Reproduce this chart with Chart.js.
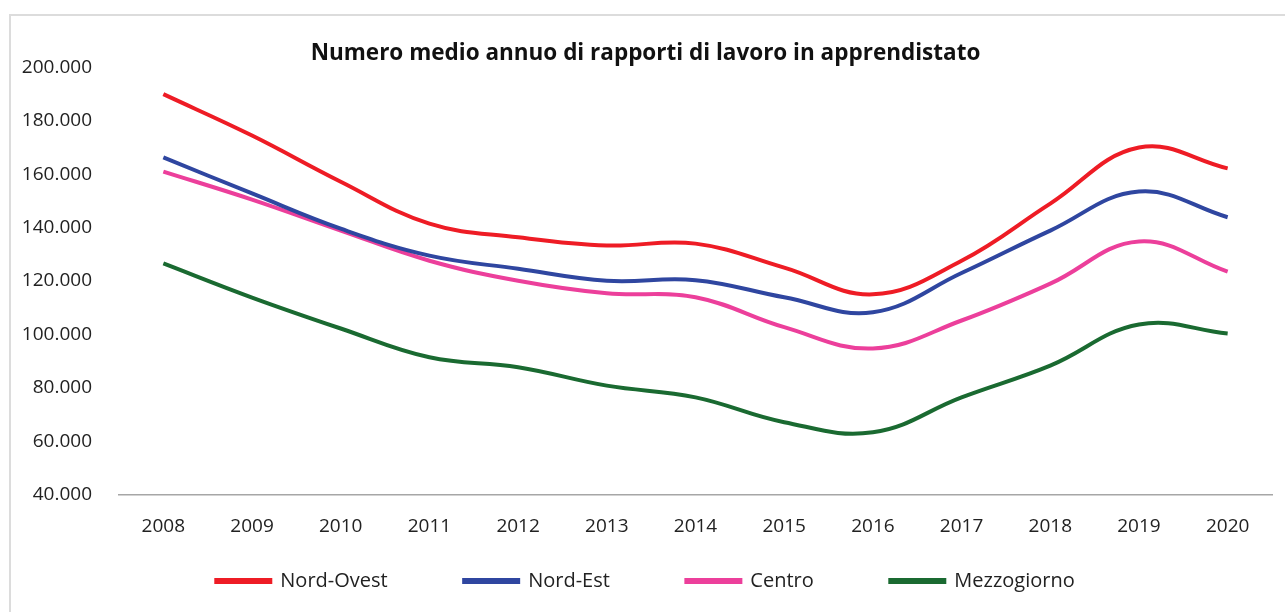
<!DOCTYPE html>
<html>
<head>
<meta charset="utf-8">
<script src="https://cdn.jsdelivr.net/npm/chart.js@4/dist/chart.umd.min.js"></script>
<style>
  html, body { margin: 0; padding: 0; background: #fff; overflow: hidden; }
  #frame { position: absolute; left: 9px; top: 14px; width: 1300px; height: 620px; border: 2px solid #dcdcdc; box-sizing: border-box; }
  #wrap { position: absolute; left: 0; top: 0; width: 1285px; height: 612px; }
</style>
</head>
<body>
<div id="frame"></div>
<div id="wrap"><canvas id="c" width="1285" height="612"></canvas></div>
<script>
const years = ['2008','2009','2010','2011','2012','2013','2014','2015','2016','2017','2018','2019','2020'];
const nordOvest = [190000, 174500, 157200, 141500, 136400, 133300, 134000, 125000, 115000, 127600, 149000, 170000, 162200];
const nordEst   = [166300, 152800, 139600, 129500, 124600, 120100, 120300, 113900, 108300, 123000, 138900, 153500, 143900];
const centro    = [161000, 150500, 138900, 127600, 120100, 115400, 113900, 102700, 94700, 105200, 119000, 134800, 123500];
const mezzogiorno = [126600, 113800, 102200, 91400, 87700, 80800, 76400, 67100, 63300, 76400, 88300, 103700, 100300];
const seriesNames = ['Nord-Ovest', 'Nord-Est', 'Centro', 'Mezzogiorno'];
const seriesColors = ['#ee1c25', '#2f46a0', '#ec3f9b', '#1a6a31'];
const titleText = 'Numero medio annuo di rapporti di lavoro in apprendistato';
const yMin = 40000, yMax = 200000, yStep = 20000;

const FONT = '"Open Sans", Lato, sans-serif';
const allSeries = [nordOvest, nordEst, centro, mezzogiorno];

const datasets = allSeries.map((d, i) => ({
  label: seriesNames[i],
  data: d,
  borderColor: seriesColors[i],
  backgroundColor: seriesColors[i],
  borderWidth: 4,
  pointRadius: 0,
  pointHoverRadius: 0,
  tension: 0.4,
  fill: false
}));

function fmt(v) {
  const k = Math.round(v / 1000);
  return k + '.000';
}

new Chart(document.getElementById('c'), {
  type: 'line',
  data: { labels: years, datasets },
  options: {
    responsive: false,
    animation: false,
    layout: { padding: { left: 19, right: 13, top: 0, bottom: 11 } },
    plugins: {
      title: {
        display: true,
        text: titleText,
        color: '#111',
        font: { family: FONT, size: 22.5, weight: 'bold' },
        padding: { top: 40.5, bottom: 0 }
      },
      legend: {
        position: 'bottom',
        labels: {
          color: '#222',
          font: { family: FONT, size: 20 },
          boxWidth: 54,
          boxHeight: 2,
          padding: 76.5
        }
      },
      tooltip: { enabled: false }
    },
    scales: {
      x: {
        position: { y: yMin },
        offset: true,
        grid: { display: true, color: 'rgba(0,0,0,0)', drawTicks: false },
        border: { display: true, color: '#a6a6a6', width: 1.5 },
        ticks: { color: '#222', font: { family: FONT, size: 19 }, padding: 21, maxRotation: 0, autoSkip: false }
      },
      y: {
        min: yMin,
        max: yMax,
        grid: { display: false, drawTicks: false },
        border: { display: false },
        ticks: {
          stepSize: yStep,
          color: '#222',
          font: { family: FONT, size: 19 },
          padding: 27,
          callback: (v) => fmt(v)
        },
        afterFit: (axis) => { axis.width = 100; }
      }
    }
  }
});
</script>
</body>
</html>
